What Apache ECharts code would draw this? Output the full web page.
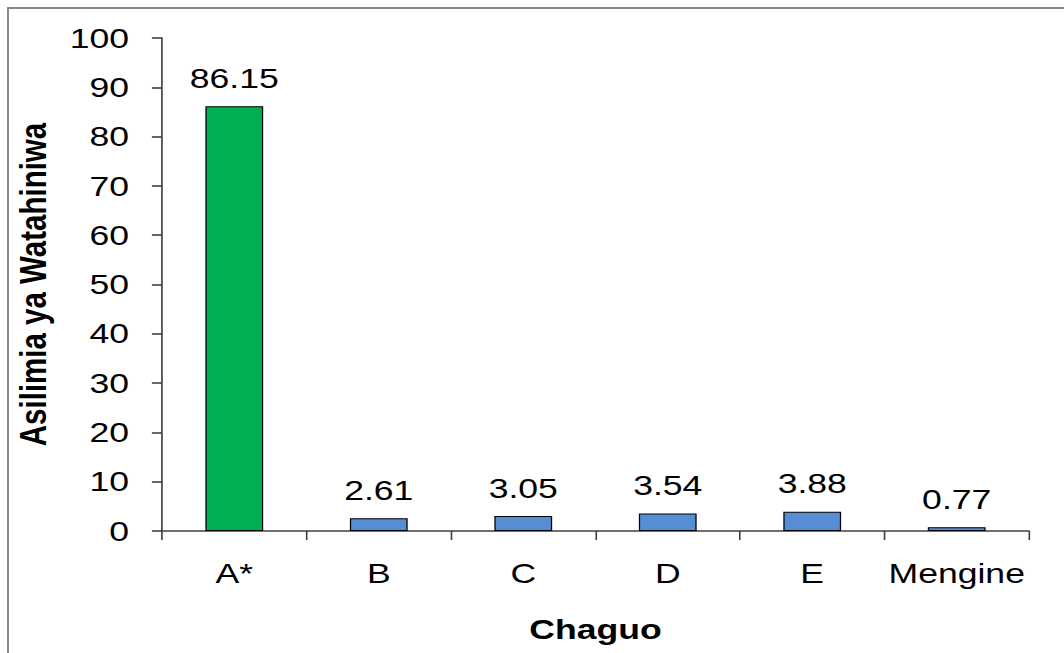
<!DOCTYPE html>
<html><head><meta charset="utf-8">
<script src="https://cdn.jsdelivr.net/npm/echarts@6/dist/echarts.min.js"></script>
<style>html,body{margin:0;padding:0;background:#fff;overflow:hidden;}
#c{width:838px;height:653px;transform:scaleX(1.27);transform-origin:0 0;}
#frame{position:absolute;left:7px;top:7px;width:1070px;height:660px;border-left:2px solid #8a8a8a;border-top:2px solid #8a8a8a;box-sizing:border-box;pointer-events:none;}</style>
</head><body>
<div id="c"></div><div id="frame"></div>
<script>
const categories = ['A*', 'B', 'C', 'D', 'E', 'Mengine'];
const values = [86.15, 2.61, 3.05, 3.54, 3.88, 0.77];
const barColors = ['#00B050', '#558ED5', '#558ED5', '#558ED5', '#558ED5', '#558ED5'];
const font = 'Liberation Sans, Arial, sans-serif';
const fs = 28;
const chart = echarts.init(document.getElementById('c'), null, {renderer: 'svg'});
chart.setOption({
  animation: false,
  grid: {left: 127.6, top: 38, right: 27.8, bottom: 122},
  xAxis: {
    type: 'category', data: categories,
    name: 'Chaguo', nameLocation: 'middle', nameGap: 84,
    nameTextStyle: {fontFamily: font, fontSize: fs, fontWeight: 'bold', color: '#000'},
    axisLine: {lineStyle: {color: '#404040', width: 1.6}},
    axisTick: {show: true, length: 9, lineStyle: {color: '#404040', width: 1.3}},
    axisLabel: {interval: 0, fontFamily: font, fontSize: fs, color: '#000', margin: 28}
  },
  yAxis: {
    type: 'value', min: 0, max: 100, interval: 10,
    name: 'Asilimia ya Watahiniwa', nameLocation: 'middle', nameGap: 87,
    nameTextStyle: {fontFamily: font, fontSize: 29.5, fontWeight: 'bold', color: '#000'},
    axisLine: {show: true, lineStyle: {color: '#404040', width: 1.3}},
    axisTick: {show: true, length: 8, lineStyle: {color: '#404040', width: 1.6}},
    axisLabel: {fontFamily: font, fontSize: fs, color: '#000', margin: 26},
    splitLine: {show: false}
  },
  series: [{
    type: 'bar', barWidth: '40%',
    data: values.map((v, i) => ({value: v, itemStyle: {color: barColors[i]}})),
    itemStyle: {borderColor: '#000', borderWidth: 1},
    label: {show: true, position: 'top', distance: 14, fontFamily: font, fontSize: fs, color: '#000',
      formatter: p => p.value.toFixed(2)}
  }]
});
</script>
</body></html>
